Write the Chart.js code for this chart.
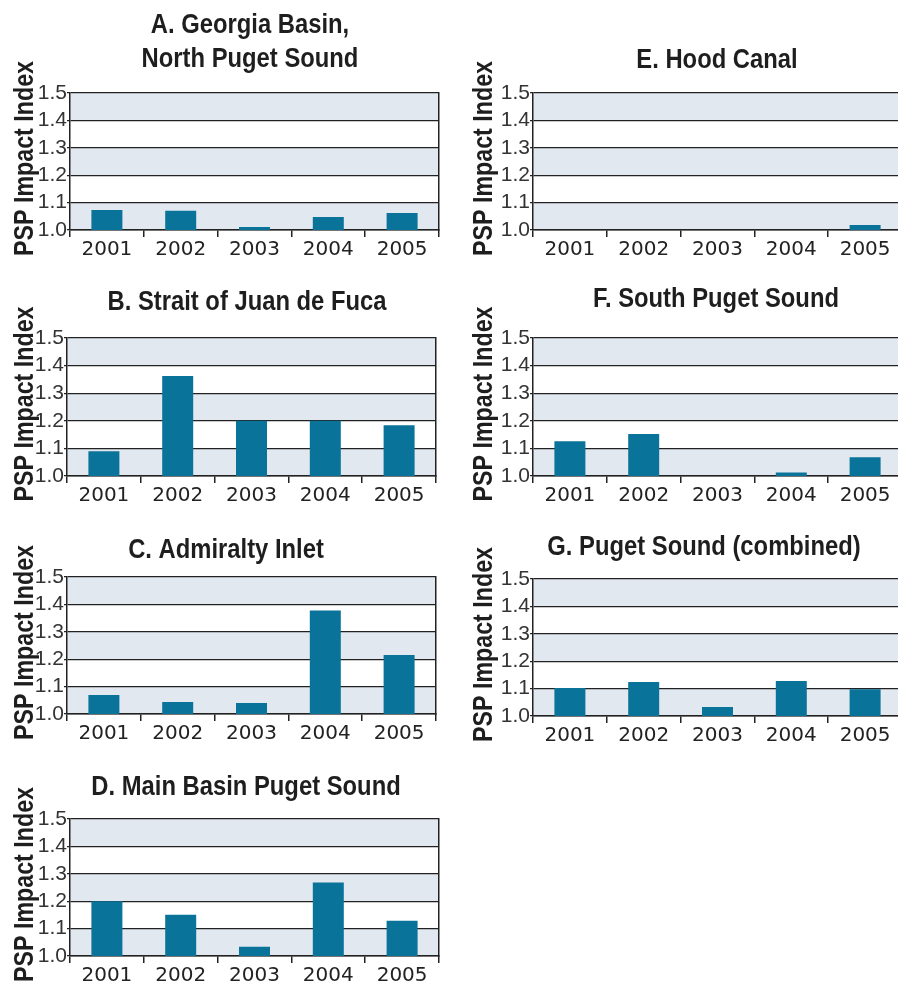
<!DOCTYPE html>
<html>
<head>
<meta charset="utf-8">
<script src="https://cdn.jsdelivr.net/npm/chart.js@4.4.1/dist/chart.umd.min.js"></script>
<style>
  html, body { margin: 0; padding: 0; background: #fff; }
  body { position: relative; width: 898px; height: 985px; overflow: hidden; }
  canvas { position: absolute; }
</style>
</head>
<body>
<script>
// dữ liệu
const years = ['2001', '2002', '2003', '2004', '2005'];
const yTicks = [1.0, 1.1, 1.2, 1.3, 1.4, 1.5];
const georgiaBasin = [1.073, 1.070, 1.011, 1.047, 1.062];
const juanDeFuca = [1.090, 1.362, 1.200, 1.200, 1.184];
const admiraltyInlet = [1.069, 1.044, 1.040, 1.378, 1.215];
const mainBasin = [1.200, 1.151, 1.034, 1.268, 1.129];
const hoodCanal = [null, null, null, null, 1.018];
const southPuget = [1.126, 1.152, null, 1.013, 1.068];
const pugetCombined = [1.102, 1.124, 1.033, 1.128, 1.098];

const yTitle = 'PSP Impact Index';
const titles = {
    A: ['A. Georgia Basin,', 'North Puget Sound'],
    B: ['B. Strait of Juan de Fuca'],
    C: ['C. Admiralty Inlet'],
    D: ['D. Main Basin Puget Sound'],
    E: ['E. Hood Canal'],
    F: ['F. South Puget Sound'],
    G: ['G. Puget Sound (combined)'],
};

// vị trí các ô (pixel trên trang)
const panels = [
    { key: 'A', data: georgiaBasin, col: 0, left: 70, right: 439, top: 93, bottom: 230, tx: 250, tBase: [33, 67] },
    { key: 'B', data: juanDeFuca, col: 0, left: 67, right: 436, top: 338, bottom: 476, tx: 247, tBase: [310] },
    { key: 'C', data: admiraltyInlet, col: 0, left: 67, right: 436, top: 577, bottom: 714, tx: 226, tBase: [558] },
    { key: 'D', data: mainBasin, col: 0, left: 70, right: 439, top: 819, bottom: 956, tx: 246, tBase: [795] },
    { key: 'E', data: hoodCanal, col: 1, left: 533, right: 902, top: 93, bottom: 230, tx: 717, tBase: [68] },
    { key: 'F', data: southPuget, col: 1, left: 533, right: 902, top: 338, bottom: 476, tx: 716, tBase: [307] },
    { key: 'G', data: pugetCombined, col: 1, left: 533, right: 902, top: 579, bottom: 716, tx: 704, tBase: [555] },
];

const HEAD = 93;
const FOOT = 36;
const SANS = "'Liberation Sans', Arial, sans-serif";
const AXIS = '#222222';

// vẽ dải nền xen kẽ
const bandPlugin = {
    id: 'bands',
    beforeDraw(chart) {
        const { ctx, chartArea, scales } = chart;
        ctx.save();
        ctx.fillStyle = '#e1e8f0';
        [[1.0, 1.1], [1.2, 1.3], [1.4, 1.5]].forEach(([a, b]) => {
            const y1 = scales.y.getPixelForValue(b);
            const y2 = scales.y.getPixelForValue(a);
            ctx.fillRect(chartArea.left, y1, chartArea.right - chartArea.left, y2 - y1);
        });
        ctx.restore();
    }
};

// tiêu đề ô và tiêu đề trục Y (chữ đậm, nén ngang)
const titlePlugin = {
    id: 'panelTitle',
    afterDraw(chart, args, opts) {
        const { ctx, chartArea } = chart;
        ctx.save();
        ctx.font = 'bold 28px ' + SANS;
        ctx.fillStyle = '#1e1e1e';
        ctx.textAlign = 'center';
        ctx.textBaseline = 'alphabetic';
        opts.lines.forEach((t, i) => {
            ctx.save();
            ctx.translate(opts.x, opts.base[i]);
            ctx.scale(0.85, 1);
            ctx.fillText(t, 0, 0);
            ctx.restore();
        });
        // tiêu đề trục Y
        ctx.translate(opts.yBase, (chartArea.top + chartArea.bottom) / 2 - 3);
        ctx.rotate(-Math.PI / 2);
        ctx.scale(0.83, 1);
        ctx.fillText(yTitle, 0, 0);
        ctx.restore();
    }
};

panels.forEach(p => {
    const colLeft = p.col === 0 ? 0 : 450;
    const width = p.col === 0 ? 450 : 460;
    const canvasTop = p.top - HEAD;
    const height = HEAD + (p.bottom - p.top) + FOOT;

    const canvas = document.createElement('canvas');
    canvas.width = width;
    canvas.height = height;
    canvas.style.left = colLeft + 'px';
    canvas.style.top = canvasTop + 'px';
    canvas.style.width = width + 'px';
    canvas.style.height = height + 'px';
    document.body.appendChild(canvas);

    new Chart(canvas.getContext('2d'), {
        type: 'bar',
        data: {
            labels: years,
            datasets: [{
                data: p.data,
                backgroundColor: '#0a7399',
                categoryPercentage: 1,
                barPercentage: 0.42,
            }],
        },
        options: {
            responsive: false,
            animation: false,
            layout: { padding: { top: HEAD, left: 0, right: colLeft + width - p.right, bottom: 0 } },
            plugins: {
                legend: { display: false },
                tooltip: { enabled: false },
                panelTitle: {
                    lines: titles[p.key],
                    x: p.tx - colLeft,
                    base: p.tBase.map(b => b - canvasTop),
                    yBase: p.col === 0 ? 33 : 42,
                },
            },
            scales: {
                x: {
                    afterFit: s => { s.height = FOOT; },
                    grid: { offset: true, drawOnChartArea: false, drawTicks: true, tickLength: 7, color: AXIS, lineWidth: 1.5 },
                    border: { display: true, color: AXIS, width: 1.5 },
                    ticks: { color: '#222', padding: 1, maxRotation: 0, autoSkip: false, font: { family: "'DejaVu Sans', sans-serif", size: 20 } },
                },
                y: {
                    min: yTicks[0],
                    max: yTicks[yTicks.length - 1],
                    afterFit: s => { s.width = p.left - colLeft; },
                    afterBuildTicks: s => { s.ticks = yTicks.map(v => ({ value: v })); },
                    grid: { color: AXIS, lineWidth: 1.3, drawTicks: true, tickLength: 3 },
                    border: { display: true, color: AXIS, width: 1.5 },
                    ticks: {
                        color: '#333',
                        padding: 0,
                        autoSkip: false,
                        font: { family: SANS, size: 21 },
                        callback: v => Number(v).toFixed(1),
                    },
                },
                // đường viền bên phải
                y2: {
                    position: 'right',
                    min: 1.0,
                    max: 1.5,
                    afterFit: s => { s.width = 0; },
                    grid: { display: false },
                    ticks: { display: false },
                    border: { display: true, color: AXIS, width: 1.5 },
                },
            },
        },
        plugins: [bandPlugin, titlePlugin],
    });
});
</script>
</body>
</html>
